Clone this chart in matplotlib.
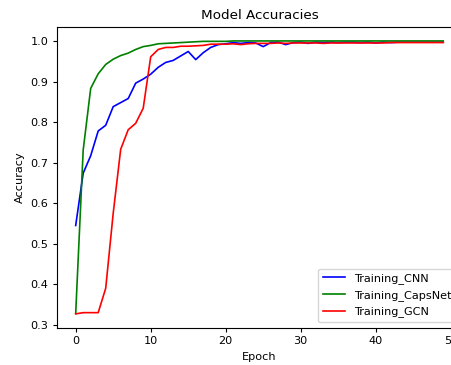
import matplotlib
matplotlib.use('Agg')
import matplotlib.pyplot as plt

# accuracy per epoch
epochs = list(range(50))

cnn_acc = [0.545, 0.674, 0.717, 0.778, 0.792, 0.838, 0.848, 0.858, 0.896, 0.906,
           0.918, 0.935, 0.947, 0.952, 0.963, 0.974, 0.954, 0.971, 0.984, 0.991,
           0.993, 0.996, 0.994, 0.996, 0.995, 0.986, 0.996, 0.997, 0.991, 0.996,
           0.997, 0.994, 0.997, 0.996, 0.997, 0.996, 0.997, 0.997, 0.996, 0.997,
           0.995, 0.997, 0.996, 0.997, 0.997, 0.997, 0.997, 0.997, 0.997, 0.997]

capsnet_acc = [0.328, 0.731, 0.883, 0.919, 0.942, 0.955, 0.964, 0.970, 0.979, 0.986,
               0.989, 0.993, 0.994, 0.995, 0.996, 0.997, 0.998, 0.999, 0.999, 0.999,
               0.999, 1.000, 1.000, 1.000, 1.000, 1.000, 1.000, 1.000, 1.000, 1.000,
               1.000, 1.000, 1.000, 1.000, 1.000, 1.000, 1.000, 1.000, 1.000, 1.000,
               1.000, 1.000, 1.000, 1.000, 1.000, 1.000, 1.000, 1.000, 1.000, 1.000]

gcn_acc = [0.327, 0.330, 0.330, 0.330, 0.390, 0.575, 0.733, 0.781, 0.797, 0.834,
           0.961, 0.979, 0.984, 0.984, 0.987, 0.987, 0.988, 0.989, 0.992, 0.992,
           0.992, 0.993, 0.991, 0.993, 0.994, 0.994, 0.994, 0.995, 0.994, 0.995,
           0.995, 0.995, 0.995, 0.994, 0.995, 0.995, 0.995, 0.995, 0.995, 0.995,
           0.995, 0.995, 0.996, 0.996, 0.996, 0.996, 0.996, 0.996, 0.996, 0.996]

# the reference is a shrunk screenshot, so everything is ~0.8 of default size
plt.rcParams['font.size'] = 8.1
plt.rcParams['xtick.major.size'] = 2.8
plt.rcParams['ytick.major.size'] = 2.8

fig = plt.figure(figsize=(4.52, 3.65), dpi=100)
# axes run past the right edge like in the reference crop
ax = fig.add_axes([0.1268, 0.1027, 0.8945, 0.8225])

ax.plot(epochs, cnn_acc, color='blue', lw=1.2, label='Training_CNN')
ax.plot(epochs, capsnet_acc, color='green', lw=1.2, label='Training_CapsNet')
ax.plot(epochs, gcn_acc, color='red', lw=1.2, label='Training_GCN')

ax.set_title('Model Accuracies', fontsize=9.7)
ax.set_xlabel('Epoch')
ax.set_ylabel('Accuracy')
ax.legend(loc='lower right')

fig.savefig('out.png', dpi=100)
